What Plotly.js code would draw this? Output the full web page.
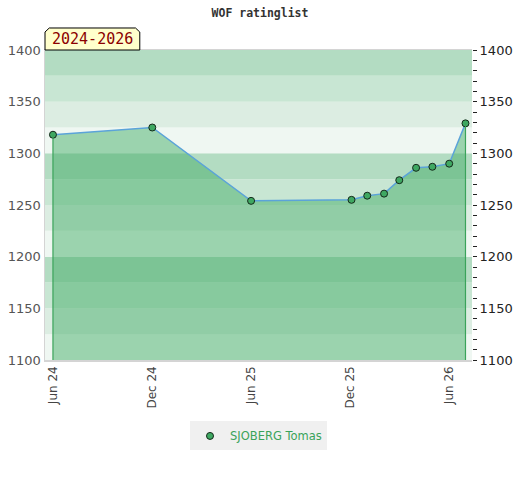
<!DOCTYPE html>
<html>
<head>
<meta charset="utf-8">
<script src="https://cdn.plot.ly/plotly-3.0.1.min.js"></script>
<style>html,body{margin:0;padding:0;background:#fff;}#chart{width:520px;height:480px;}</style>
</head>
<body>
<div id="chart"></div>
<script>
var dates = ["2024-06-01","2024-12-01","2025-06-01","2025-12-03","2026-01-01","2026-02-01","2026-03-01","2026-04-01","2026-05-01","2026-06-01","2026-07-01"];
var ratings = [1318, 1325, 1254, 1255, 1259, 1261, 1274, 1286, 1287, 1290, 1329];
var playerName = "SJOBERG Tomas";
var chartTitle = "WOF ratinglist";
var periodLabel = "2024-2026";
var yTicks = [1100, 1150, 1200, 1250, 1300, 1350, 1400];

var yMin = 1100, yMax = 1400;
var bandColors = ["#eff7f2", "#dcede2", "#c8e6d3", "#b3dcc2"];
var shapes = [];
var i = 0;
for (var b = yMin; b < yMax; b += 25, i++) {
  shapes.push({type: "rect", xref: "paper", yref: "y", x0: 0, x1: 1, y0: b, y1: b + 25,
    fillcolor: bandColors[i % 4], line: {width: 0}, layer: "below"});
}
// vertical edges of the filled area at first and last point
[0, dates.length - 1].forEach(function (k) {
  shapes.push({type: "line", xref: "x", yref: "y", x0: dates[k], x1: dates[k], y0: yMin, y1: ratings[k],
    line: {color: "#3aa35a", width: 1.2}, layer: "above"});
});
// label box with cut corners
var bx0 = 0, bx1 = 0.222, by0 = 1.0, by1 = 1.071, cx = 0.01, cy = 0.013;
shapes.push({type: "path", xref: "paper", yref: "paper",
  path: "M " + bx0 + " " + by0 + " L " + bx0 + " " + (by1 - cy) + " L " + (bx0 + cx) + " " + by1 +
        " L " + (bx1 - cx) + " " + by1 + " L " + bx1 + " " + (by1 - cy) + " L " + bx1 + " " + by0 + " Z",
  fillcolor: "#ffffcc", line: {color: "#000", width: 1}});

var traces = [
  {x: dates, y: ratings, type: "scatter", mode: "lines", fill: "tozeroy",
   fillcolor: "rgba(62,170,97,0.47)", line: {color: "#5ba3d9", width: 1.5}, showlegend: false, hoverinfo: "skip"},
  {x: dates, y: ratings, type: "scatter", mode: "markers", name: playerName, yaxis: "y2",
   marker: {color: "#3fa862", size: 7, line: {color: "#14281a", width: 1}}}
];

var layout = {
  width: 520, height: 480,
  margin: {l: 45, r: 48, t: 50, b: 120},
  paper_bgcolor: "#fff", plot_bgcolor: "#fff",
  title: {text: "<b>" + chartTitle + "</b>", x: 0.5, xanchor: "center", y: 0.972, yanchor: "middle",
          font: {family: "DejaVu Sans Mono", size: 11.5, color: "#333"}},
  xaxis: {type: "date", range: ["2024-05-17 08:00", "2026-07-13"], tick0: "2024-06-01", dtick: "M6",
          tickformat: "%b %y", tickangle: -90, showgrid: false, zeroline: false,
          showline: true, linecolor: "#d4d4d4", linewidth: 1.5, mirror: true, ticks: "",
          tickfont: {family: "DejaVu Sans", size: 12, color: "#444"}},
  yaxis: {range: [yMin, yMax], tickvals: yTicks, showgrid: false, zeroline: false,
          showline: true, linecolor: "#d4d4d4", linewidth: 1.5, ticks: "",
          tickfont: {family: "DejaVu Sans", size: 13, color: "#555"}},
  yaxis2: {range: [yMin, yMax], overlaying: "y", side: "right", tickvals: yTicks, showgrid: false,
           zeroline: false, showline: false, ticks: "outside", ticklen: 4, tickcolor: "#222", tickwidth: 1,
           minor: {dtick: 10, ticks: "outside", ticklen: 4, tickcolor: "#222", tickwidth: 1, showgrid: false},
           tickfont: {family: "DejaVu Sans", size: 13, color: "#222"}},
  showlegend: true,
  legend: {orientation: "h", x: 0.5, xanchor: "center", y: -0.245, yanchor: "middle",
           bgcolor: "#f0f0f0", itemwidth: 30, font: {family: "DejaVu Sans", size: 11.5, color: "#3aa35a"}},
  shapes: shapes,
  annotations: [{xref: "paper", yref: "paper", x: (bx0 + bx1) / 2, y: (by0 + by1) / 2,
    xanchor: "center", yanchor: "middle", showarrow: false, text: periodLabel,
    font: {family: "DejaVu Sans Mono", size: 15, color: "#8b0000"}}]
};

Plotly.newPlot("chart", traces, layout, {displayModeBar: false, staticPlot: true});
</script>
</body>
</html>
